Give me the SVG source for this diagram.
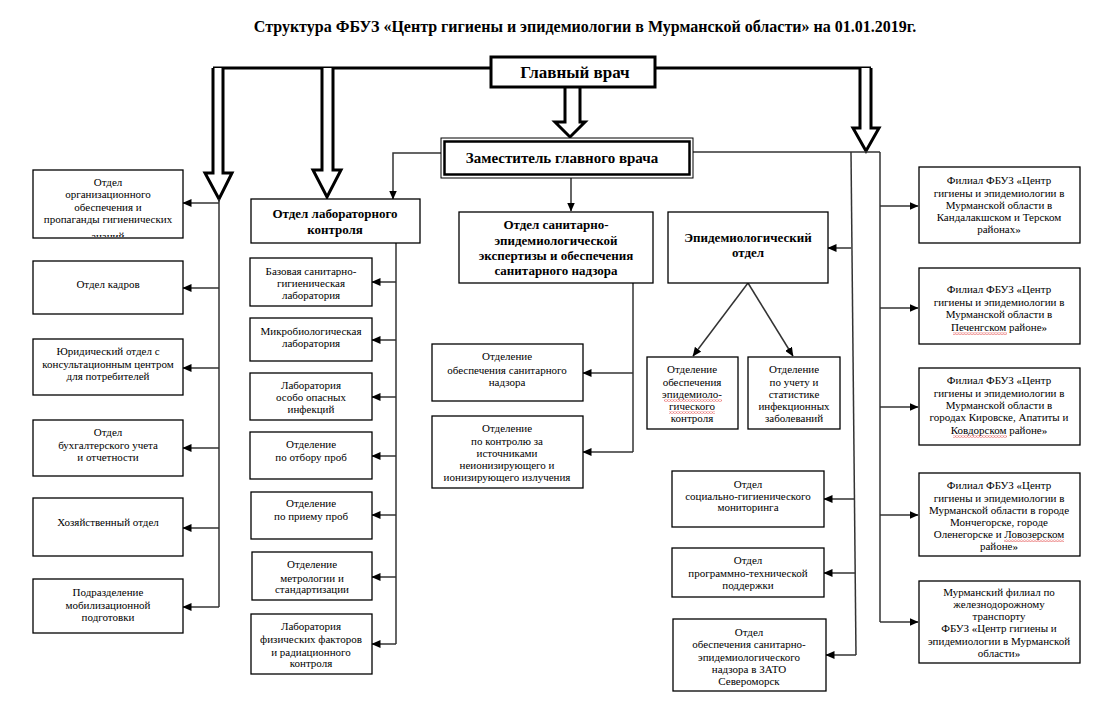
<svg xmlns="http://www.w3.org/2000/svg" width="1108" height="703" viewBox="0 0 1108 703">
<style>
  .bx{fill:#fff;stroke:#000;stroke-width:1.3}
  .t{font-family:"Liberation Serif","Times New Roman",serif;font-size:11px;fill:#000;text-anchor:middle}
  .b{font-family:"Liberation Serif","Times New Roman",serif;font-weight:bold;font-size:13px;fill:#000;text-anchor:middle}
  .ln{fill:none;stroke:#333;stroke-width:1.5}
  .la{fill:none;stroke:#333;stroke-width:1.5;marker-end:url(#ah)}
  .thick{fill:none;stroke:#000;stroke-width:3}
  .hollow{fill:#fff;stroke:#000;stroke-width:3;stroke-linejoin:miter}
  .wavy{fill:url(#wv)}
</style>
<defs>
  <marker id="ah" markerUnits="userSpaceOnUse" markerWidth="9" markerHeight="8" refX="8.5" refY="4" orient="auto">
    <path d="M0,0 L9,4 L0,8 z" fill="#000"/>
  </marker>
  <pattern id="wv" width="3" height="2.4" patternUnits="userSpaceOnUse">
    <path d="M0 0.3 L1.5 2 L3 0.3" stroke="#d22" stroke-width="0.7" fill="none"/>
  </pattern>
  <clipPath id="c1"><rect x="33" y="170" width="150" height="67"/></clipPath>
</defs>
<rect width="1108" height="703" fill="#fff"/>

<text x="585" y="32" font-family="Liberation Serif,'Times New Roman',serif" font-weight="bold" font-size="16" text-anchor="middle">Структура ФБУЗ «Центр гигиены и эпидемиологии в Мурманской области» на 01.01.2019г.</text>

<g id="connectors">
  <path class="thick" d="M213,68 H490"/>
  <path class="thick" d="M655,68 H871"/>
  <path class="hollow" d="M213,68 V173 H205 L219,199 L232,173 H223 V68"/>
  <path class="hollow" d="M322,68 V170 H313 L327,197 L341,170 H333 V68"/>
  <path class="hollow" d="M565,88 V122 H555 L570,137 L585,122 H580 V88"/>
  <path class="hollow" d="M860,68 V128 H853 L866,151 L879,128 H871 V68"/>
  <path class="la" d="M441,153 H393 V199"/>
  <path class="la" d="M571,178 V211"/>
  <path class="ln" d="M693,152 H880"/>
  <path class="ln" d="M219,199 V607"/>
  <path class="la" d="M219,203 H183"/>
  <path class="la" d="M219,288 H183"/>
  <path class="la" d="M219,368 H183"/>
  <path class="la" d="M219,448 H183"/>
  <path class="la" d="M219,528 H183"/>
  <path class="la" d="M219,607 H183"/>
  <path class="ln" d="M396,243 V644"/>
  <path class="la" d="M396,282 H372"/>
  <path class="la" d="M396,340 H372"/>
  <path class="la" d="M396,397 H372"/>
  <path class="la" d="M396,456 H372"/>
  <path class="la" d="M396,515 H372"/>
  <path class="la" d="M396,577 H372"/>
  <path class="la" d="M396,644 H372"/>
  <path class="ln" d="M633,283 V452"/>
  <path class="la" d="M633,373 H583"/>
  <path class="la" d="M633,452 H583"/>
  <path class="la" d="M748,283 L693,356"/>
  <path class="la" d="M748,283 L793,356"/>
  <path class="ln" d="M851,152 L856,655"/>
  <path class="la" d="M851,248 H828"/>
  <path class="la" d="M854,499 H824"/>
  <path class="la" d="M855,573 H824"/>
  <path class="la" d="M856,655 H826"/>
  <path class="ln" d="M880,152 V622"/>
  <path class="la" d="M880,206 H918"/>
  <path class="la" d="M880,308 H918"/>
  <path class="la" d="M880,407 H918"/>
  <path class="la" d="M880,515 H918"/>
  <path class="la" d="M880,622 H918"/>
</g>

<g id="chief">
  <rect x="491" y="57" width="164" height="30" fill="#fff" stroke="#000" stroke-width="3"/>
  <text class="b" x="575" y="78" style="font-size:17px">Главный врач</text>
</g>
<g id="deputy">
  <rect x="441" y="138" width="252" height="40" fill="#fff" stroke="#000" stroke-width="1"/>
  <rect x="444.5" y="141.5" width="245" height="33" fill="none" stroke="#000" stroke-width="2.5"/>
  <text class="b" x="562" y="163" style="font-size:15px">Заместитель главного врача</text>
</g>

<g id="org">
  <rect class="bx" x="33" y="170" width="150" height="68"/>
  <g clip-path="url(#c1)">
    <text class="t" x="108" y="186">Отдел</text>
    <text class="t" x="108" y="198">организационного</text>
    <text class="t" x="108" y="211">обеспечения и</text>
    <text class="t" x="108" y="223">пропаганды гигиенических</text>
    <text class="t" x="108" y="240">знаний</text>
  </g>
</g>
<g id="kadry">
  <rect class="bx" x="33" y="261" width="150" height="53"/>
  <text class="t" x="108" y="288">Отдел кадров</text>
</g>
<g id="jur">
  <rect class="bx" x="33" y="339" width="150" height="56"/>
  <text class="t" x="108" y="355">Юридический отдел с</text>
  <text class="t" x="108" y="368">консультационным центром</text>
  <text class="t" x="108" y="380">для потребителей</text>
</g>
<g id="buh">
  <rect class="bx" x="33" y="420" width="150" height="56"/>
  <text class="t" x="108" y="436">Отдел</text>
  <text class="t" x="108" y="449">бухгалтерского учета</text>
  <text class="t" x="108" y="461">и отчетности</text>
</g>
<g id="hoz">
  <rect class="bx" x="33" y="498" width="150" height="58"/>
  <text class="t" x="108" y="526">Хозяйственный отдел</text>
</g>
<g id="mob">
  <rect class="bx" x="33" y="579" width="150" height="54"/>
  <text class="t" x="108" y="596">Подразделение</text>
  <text class="t" x="108" y="609">мобилизационной</text>
  <text class="t" x="108" y="621">подготовки</text>
</g>

<g id="lab">
  <rect class="bx" x="251" y="199" width="169" height="44"/>
  <text class="b" x="335" y="218">Отдел лабораторного</text>
  <text class="b" x="335" y="234">контроля</text>
</g>
<g id="lab1">
  <rect class="bx" x="250" y="258" width="122" height="48"/>
  <text class="t" x="311" y="275">Базовая санитарно-</text>
  <text class="t" x="311" y="287">гигиеническая</text>
  <text class="t" x="311" y="299">лаборатория</text>
</g>
<g id="lab2">
  <rect class="bx" x="250" y="318" width="122" height="43"/>
  <text class="t" x="311" y="335">Микробиологическая</text>
  <text class="t" x="311" y="347">лаборатория</text>
</g>
<g id="lab3">
  <rect class="bx" x="250" y="373" width="122" height="47"/>
  <text class="t" x="311" y="389">Лаборатория</text>
  <text class="t" x="311" y="401">особо опасных</text>
  <text class="t" x="311" y="413">инфекций</text>
</g>
<g id="lab4">
  <rect class="bx" x="250" y="432" width="122" height="47"/>
  <text class="t" x="311" y="448">Отделение</text>
  <text class="t" x="311" y="461">по отбору проб</text>
</g>
<g id="lab5">
  <rect class="bx" x="251" y="492" width="121" height="47"/>
  <text class="t" x="311" y="507">Отделение</text>
  <text class="t" x="311" y="520">по приему проб</text>
</g>
<g id="lab6">
  <rect class="bx" x="252" y="552" width="120" height="48"/>
  <text class="t" x="312" y="568">Отделение</text>
  <text class="t" x="312" y="582">метрологии и</text>
  <text class="t" x="312" y="593">стандартизации</text>
</g>
<g id="lab7">
  <rect class="bx" x="251" y="614" width="121" height="60"/>
  <text class="t" x="311" y="630">Лаборатория</text>
  <text class="t" x="311" y="643">физических факторов</text>
  <text class="t" x="311" y="656">и радиационного</text>
  <text class="t" x="311" y="667">контроля</text>
</g>

<g id="san">
  <rect class="bx" x="459" y="212" width="194" height="71"/>
  <text class="b" x="556" y="229">Отдел санитарно-</text>
  <text class="b" x="556" y="245">эпидемиологической</text>
  <text class="b" x="556" y="260">экспертизы и обеспечения</text>
  <text class="b" x="556" y="275">санитарного надзора</text>
</g>
<g id="san1">
  <rect class="bx" x="432" y="344" width="151" height="57"/>
  <text class="t" x="507" y="360">Отделение</text>
  <text class="t" x="507" y="374">обеспечения санитарного</text>
  <text class="t" x="507" y="386">надзора</text>
</g>
<g id="san2">
  <rect class="bx" x="432" y="416" width="151" height="72"/>
  <text class="t" x="507" y="432">Отделение</text>
  <text class="t" x="507" y="445">по контролю за</text>
  <text class="t" x="507" y="457">источниками</text>
  <text class="t" x="507" y="469">неионизирующего и</text>
  <text class="t" x="507" y="481">ионизирующего излучения</text>
</g>

<g id="epid">
  <rect class="bx" x="668" y="212" width="160" height="71"/>
  <text class="b" x="748" y="242">Эпидемиологический</text>
  <text class="b" x="748" y="257">отдел</text>
</g>
<g id="epid1">
  <rect class="bx" x="647" y="357" width="91" height="72"/>
  <text class="t" x="692" y="373">Отделение</text>
  <text class="t" x="692" y="386">обеспечения</text>
  <text class="t" x="692" y="398">эпидемиоло-</text>
  <text class="t" x="692" y="410">гического</text>
  <text class="t" x="692" y="422">контроля</text>
  <rect class="wavy" x="664" y="399.5" width="58" height="2.4"/>
  <rect class="wavy" x="669" y="411.5" width="46" height="2.4"/>
</g>
<g id="epid2">
  <rect class="bx" x="748" y="357" width="92" height="72"/>
  <text class="t" x="794" y="373">Отделение</text>
  <text class="t" x="794" y="386">по учету и</text>
  <text class="t" x="794" y="398">статистике</text>
  <text class="t" x="794" y="410">инфекционных</text>
  <text class="t" x="794" y="422">заболеваний</text>
</g>

<g id="sgm">
  <rect class="bx" x="672" y="471" width="152" height="56"/>
  <text class="t" x="748" y="488">Отдел</text>
  <text class="t" x="748" y="500">социально-гигиенического</text>
  <text class="t" x="748" y="511">мониторинга</text>
</g>
<g id="ptp">
  <rect class="bx" x="672" y="548" width="152" height="49"/>
  <text class="t" x="748" y="564">Отдел</text>
  <text class="t" x="748" y="577">программно-технической</text>
  <text class="t" x="748" y="589">поддержки</text>
</g>
<g id="zato">
  <rect class="bx" x="673" y="619" width="153" height="72"/>
  <text class="t" x="749" y="636">Отдел</text>
  <text class="t" x="749" y="648">обеспечения санитарно-</text>
  <text class="t" x="749" y="661">эпидемиологического</text>
  <text class="t" x="749" y="673">надзора в ЗАТО</text>
  <text class="t" x="749" y="685">Североморск</text>
</g>

<g id="f1">
  <rect class="bx" x="919" y="167" width="161" height="76"/>
  <text class="t" x="999" y="184">Филиал ФБУЗ «Центр</text>
  <text class="t" x="999" y="197">гигиены и эпидемиологии в</text>
  <text class="t" x="999" y="209">Мурманской области в</text>
  <text class="t" x="999" y="221">Кандалакшском и Терском</text>
  <text class="t" x="999" y="233">районах»</text>
</g>
<g id="f2">
  <rect class="bx" x="919" y="268" width="161" height="76"/>
  <text class="t" x="999" y="293">Филиал ФБУЗ «Центр</text>
  <text class="t" x="999" y="306">гигиены и эпидемиологии в</text>
  <text class="t" x="999" y="318">Мурманской области в</text>
  <text class="t" x="999" y="331">Печенгском районе»</text>
  <rect class="wavy" x="953" y="332.5" width="54" height="2.4"/>
</g>
<g id="f3">
  <rect class="bx" x="919" y="368" width="161" height="77"/>
  <text class="t" x="999" y="384">Филиал ФБУЗ «Центр</text>
  <text class="t" x="999" y="397">гигиены и эпидемиологии в</text>
  <text class="t" x="999" y="409">Мурманской области в</text>
  <text class="t" x="999" y="421">городах Кировске, Апатиты и</text>
  <text class="t" x="999" y="434">Ковдорском районе»</text>
  <rect class="wavy" x="953" y="435.5" width="54" height="2.4"/>
</g>
<g id="f4">
  <rect class="bx" x="919" y="473" width="161" height="83"/>
  <text class="t" x="999" y="489">Филиал ФБУЗ «Центр</text>
  <text class="t" x="999" y="502">гигиены и эпидемиологии в</text>
  <text class="t" x="999" y="514">Мурманской области в городе</text>
  <text class="t" x="999" y="526">Мончегорске, городе</text>
  <text class="t" x="999" y="538">Оленегорске и Ловозерском</text>
  <text class="t" x="999" y="550">районе»</text>
  <rect class="wavy" x="1004" y="539.5" width="60" height="2.4"/>
</g>
<g id="f5">
  <rect class="bx" x="919" y="581" width="161" height="82"/>
  <text class="t" x="999" y="596">Мурманский филиал по</text>
  <text class="t" x="999" y="608">железнодорожному</text>
  <text class="t" x="999" y="620">транспорту</text>
  <text class="t" x="999" y="632">ФБУЗ «Центр гигиены и</text>
  <text class="t" x="999" y="645">эпидемиологии в Мурманской</text>
  <text class="t" x="999" y="657">области»</text>
</g>
</svg>
